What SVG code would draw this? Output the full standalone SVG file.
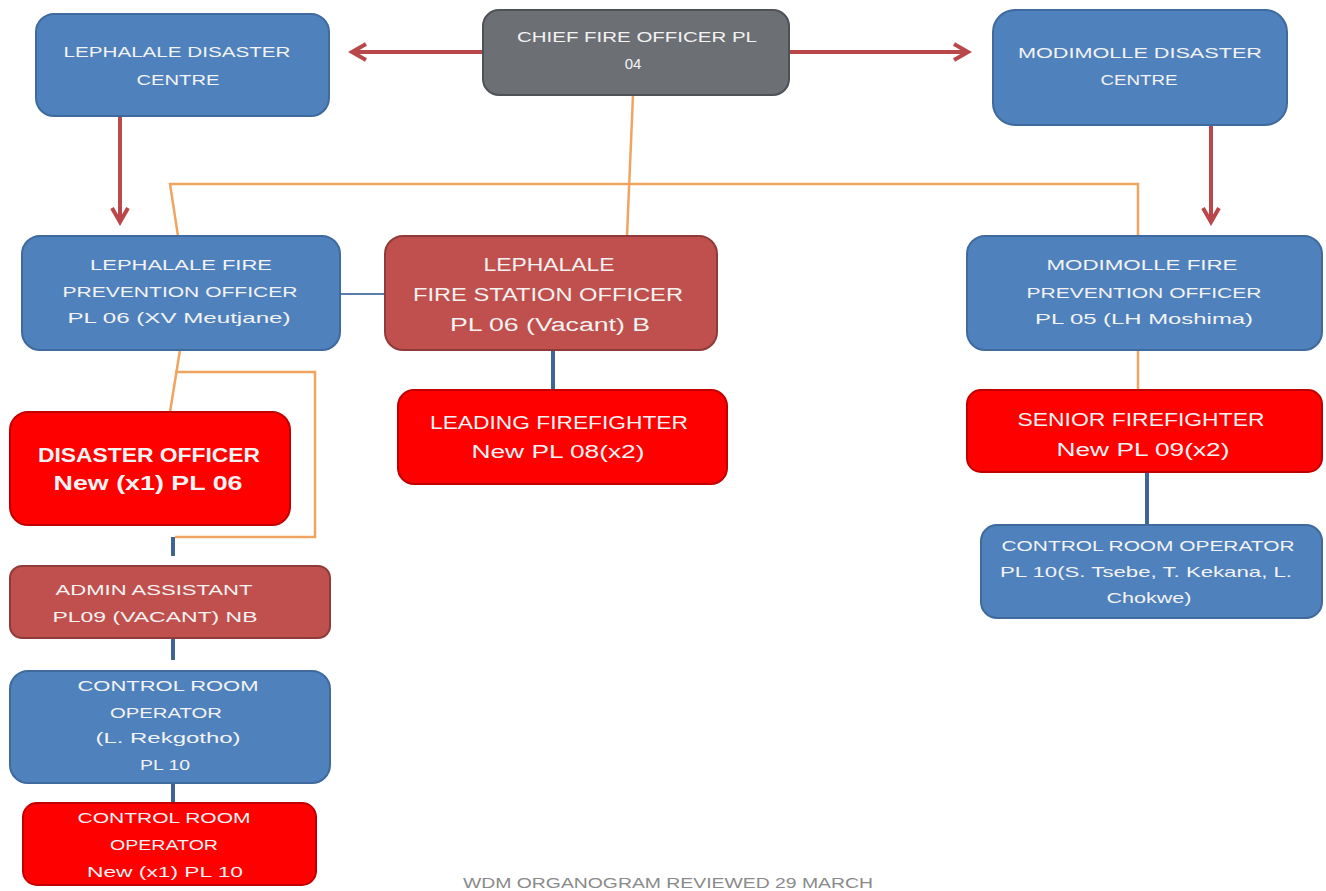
<svg xmlns="http://www.w3.org/2000/svg" width="1326" height="891" viewBox="0 0 1326 891">
  <style>
    .blue { fill: #4f81bd; stroke: #3f6a9e; stroke-width: 2; }
    .brick { fill: #c0504d; stroke: #8e3b39; stroke-width: 2; }
    .red { fill: #fe0000; stroke: #c00000; stroke-width: 2; }
    .grey { fill: #6c6f74; stroke: #4e5257; stroke-width: 2; }
    text { font-family: "Liberation Sans", Arial, sans-serif; fill: #f3f3f3; text-anchor: middle; }
    .s { font-size: 15px; }
    .m { font-size: 18px; }
    .b { font-size: 20px; font-weight: bold; }
    .foot { font-size: 14px; fill: #8a8a8a; }
    .main { stroke: #b9484a; stroke-width: 4; fill: none; }
    .link { stroke: #f0a460; stroke-width: 2.5; fill: none; }
    .tie { stroke: #3f6595; stroke-width: 4; fill: none; }
    .thin { stroke: #5a7fae; stroke-width: 2; fill: none; }
  </style>
  <defs>
    <marker id="head" viewBox="0 0 10 10" refX="8" refY="5" markerWidth="5" markerHeight="5" orient="auto">
      <path d="M1,1 L8,5 L1,9" fill="none" stroke="#b9484a" stroke-width="2"/>
    </marker>
  </defs>
  <rect width="1326" height="891" fill="#ffffff"/>

  <g id="connectors">
    <line class="main" x1="483" y1="52" x2="352" y2="52" marker-end="url(#head)"/>
    <line class="main" x1="789" y1="52" x2="968" y2="52" marker-end="url(#head)"/>
    <line class="main" x1="120" y1="116" x2="120" y2="222" marker-end="url(#head)"/>
    <line class="main" x1="1211" y1="125" x2="1211" y2="222" marker-end="url(#head)"/>
    <line class="link" x1="633" y1="95" x2="627" y2="236"/>
    <polyline class="link" points="178,236 170,184 1138,184 1138,236"/>
    <line class="link" x1="180" y1="350" x2="170" y2="412"/>
    <polyline class="link" points="175,372 315,372 315,537 175,537"/>
    <line class="link" x1="1138" y1="350" x2="1138" y2="390"/>
    <line class="thin" x1="340" y1="294" x2="385" y2="294"/>
    <line class="tie" x1="553" y1="350" x2="553" y2="390"/>
    <line class="tie" x1="1147" y1="472" x2="1147" y2="525"/>
    <line class="tie" x1="173" y1="537" x2="173" y2="556"/>
    <line class="tie" x1="173" y1="638" x2="173" y2="660"/>
    <line class="tie" x1="173" y1="783" x2="173" y2="803"/>
  </g>

  <g id="lephalale-disaster-centre">
    <rect class="blue" x="36" y="14" width="293" height="102" rx="18"/>
    <text class="s" x="177" y="57" textLength="227" lengthAdjust="spacingAndGlyphs">LEPHALALE DISASTER</text>
    <text class="s" x="178" y="85" textLength="83" lengthAdjust="spacingAndGlyphs">CENTRE</text>
  </g>

  <g id="chief-fire-officer">
    <rect class="grey" x="483" y="10" width="306" height="85" rx="16"/>
    <text class="s" x="637" y="42" textLength="240" lengthAdjust="spacingAndGlyphs">CHIEF FIRE OFFICER PL</text>
    <text class="s" x="633" y="69">04</text>
  </g>

  <g id="modimolle-disaster-centre">
    <rect class="blue" x="993" y="10" width="294" height="115" rx="22"/>
    <text class="s" x="1140" y="58" textLength="244" lengthAdjust="spacingAndGlyphs">MODIMOLLE DISASTER</text>
    <text class="s" x="1139" y="85" textLength="77" lengthAdjust="spacingAndGlyphs">CENTRE</text>
  </g>

  <g id="lephalale-fire-prevention-officer">
    <rect class="blue" x="22" y="236" width="318" height="114" rx="18"/>
    <text class="s" x="181" y="270" textLength="182" lengthAdjust="spacingAndGlyphs">LEPHALALE   FIRE</text>
    <text class="s" x="180" y="297" textLength="235" lengthAdjust="spacingAndGlyphs">PREVENTION OFFICER</text>
    <text class="s" x="179" y="323" textLength="223" lengthAdjust="spacingAndGlyphs">PL 06 (XV Meutjane)</text>
  </g>

  <g id="lephalale-fire-station-officer">
    <rect class="brick" x="385" y="236" width="332" height="114" rx="18"/>
    <text class="m" x="549" y="271" textLength="131" lengthAdjust="spacingAndGlyphs">LEPHALALE</text>
    <text class="m" x="548" y="301" textLength="270" lengthAdjust="spacingAndGlyphs">FIRE STATION  OFFICER</text>
    <text class="m" x="550" y="331" textLength="200" lengthAdjust="spacingAndGlyphs">PL 06 (Vacant)  B</text>
  </g>

  <g id="modimolle-fire-prevention-officer">
    <rect class="blue" x="967" y="236" width="355" height="114" rx="18"/>
    <text class="s" x="1142" y="270" textLength="191" lengthAdjust="spacingAndGlyphs">MODIMOLLE  FIRE</text>
    <text class="s" x="1144" y="298" textLength="235" lengthAdjust="spacingAndGlyphs">PREVENTION OFFICER</text>
    <text class="s" x="1144" y="324" textLength="218" lengthAdjust="spacingAndGlyphs">PL 05 (LH Moshima)</text>
  </g>

  <g id="leading-firefighter">
    <rect class="red" x="398" y="390" width="329" height="94" rx="16"/>
    <text class="m" x="559" y="429" textLength="258" lengthAdjust="spacingAndGlyphs">LEADING FIREFIGHTER</text>
    <text class="m" x="558" y="458" textLength="173" lengthAdjust="spacingAndGlyphs">New PL 08(x2)</text>
  </g>

  <g id="senior-firefighter">
    <rect class="red" x="967" y="390" width="355" height="82" rx="14"/>
    <text class="m" x="1141" y="426" textLength="247" lengthAdjust="spacingAndGlyphs">SENIOR  FIREFIGHTER</text>
    <text class="m" x="1143" y="456" textLength="173" lengthAdjust="spacingAndGlyphs">New PL 09(x2)</text>
  </g>

  <g id="modimolle-control-room-operator">
    <rect class="blue" x="981" y="525" width="341" height="93" rx="16"/>
    <text class="s" x="1148" y="551" textLength="293" lengthAdjust="spacingAndGlyphs">CONTROL ROOM OPERATOR</text>
    <text class="s" x="1146" y="577" textLength="292" lengthAdjust="spacingAndGlyphs">PL 10(S. Tsebe, T. Kekana, L.</text>
    <text class="s" x="1149" y="603" textLength="85" lengthAdjust="spacingAndGlyphs">Chokwe)</text>
  </g>

  <g id="disaster-officer">
    <rect class="red" x="10" y="412" width="280" height="113" rx="18"/>
    <text class="b" x="149" y="462" textLength="222" lengthAdjust="spacingAndGlyphs">DISASTER  OFFICER</text>
    <text class="b" x="148" y="490" textLength="189" lengthAdjust="spacingAndGlyphs">New (x1) PL 06</text>
  </g>

  <g id="admin-assistant">
    <rect class="brick" x="10" y="566" width="320" height="72" rx="12"/>
    <text class="s" x="154" y="595" textLength="197" lengthAdjust="spacingAndGlyphs">ADMIN ASSISTANT</text>
    <text class="s" x="155" y="622" textLength="205" lengthAdjust="spacingAndGlyphs">PL09 (VACANT) NB</text>
  </g>

  <g id="lephalale-control-room-operator">
    <rect class="blue" x="10" y="671" width="320" height="112" rx="18"/>
    <text class="s" x="168" y="691" textLength="181" lengthAdjust="spacingAndGlyphs">CONTROL ROOM</text>
    <text class="s" x="166" y="718" textLength="112" lengthAdjust="spacingAndGlyphs">OPERATOR</text>
    <text class="s" x="168" y="743" textLength="145" lengthAdjust="spacingAndGlyphs">(L. Rekgotho)</text>
    <text class="s" x="165" y="770" textLength="50" lengthAdjust="spacingAndGlyphs">PL 10</text>
  </g>

  <g id="new-control-room-operator">
    <rect class="red" x="23" y="803" width="293" height="82" rx="14"/>
    <text class="s" x="164" y="823" textLength="173" lengthAdjust="spacingAndGlyphs">CONTROL ROOM</text>
    <text class="s" x="164" y="850" textLength="108" lengthAdjust="spacingAndGlyphs">OPERATOR</text>
    <text class="s" x="165" y="877" textLength="156" lengthAdjust="spacingAndGlyphs">New (x1) PL 10</text>
  </g>

  <text class="foot" x="668" y="888" textLength="410" lengthAdjust="spacingAndGlyphs">WDM ORGANOGRAM REVIEWED 29 MARCH</text>
</svg>
